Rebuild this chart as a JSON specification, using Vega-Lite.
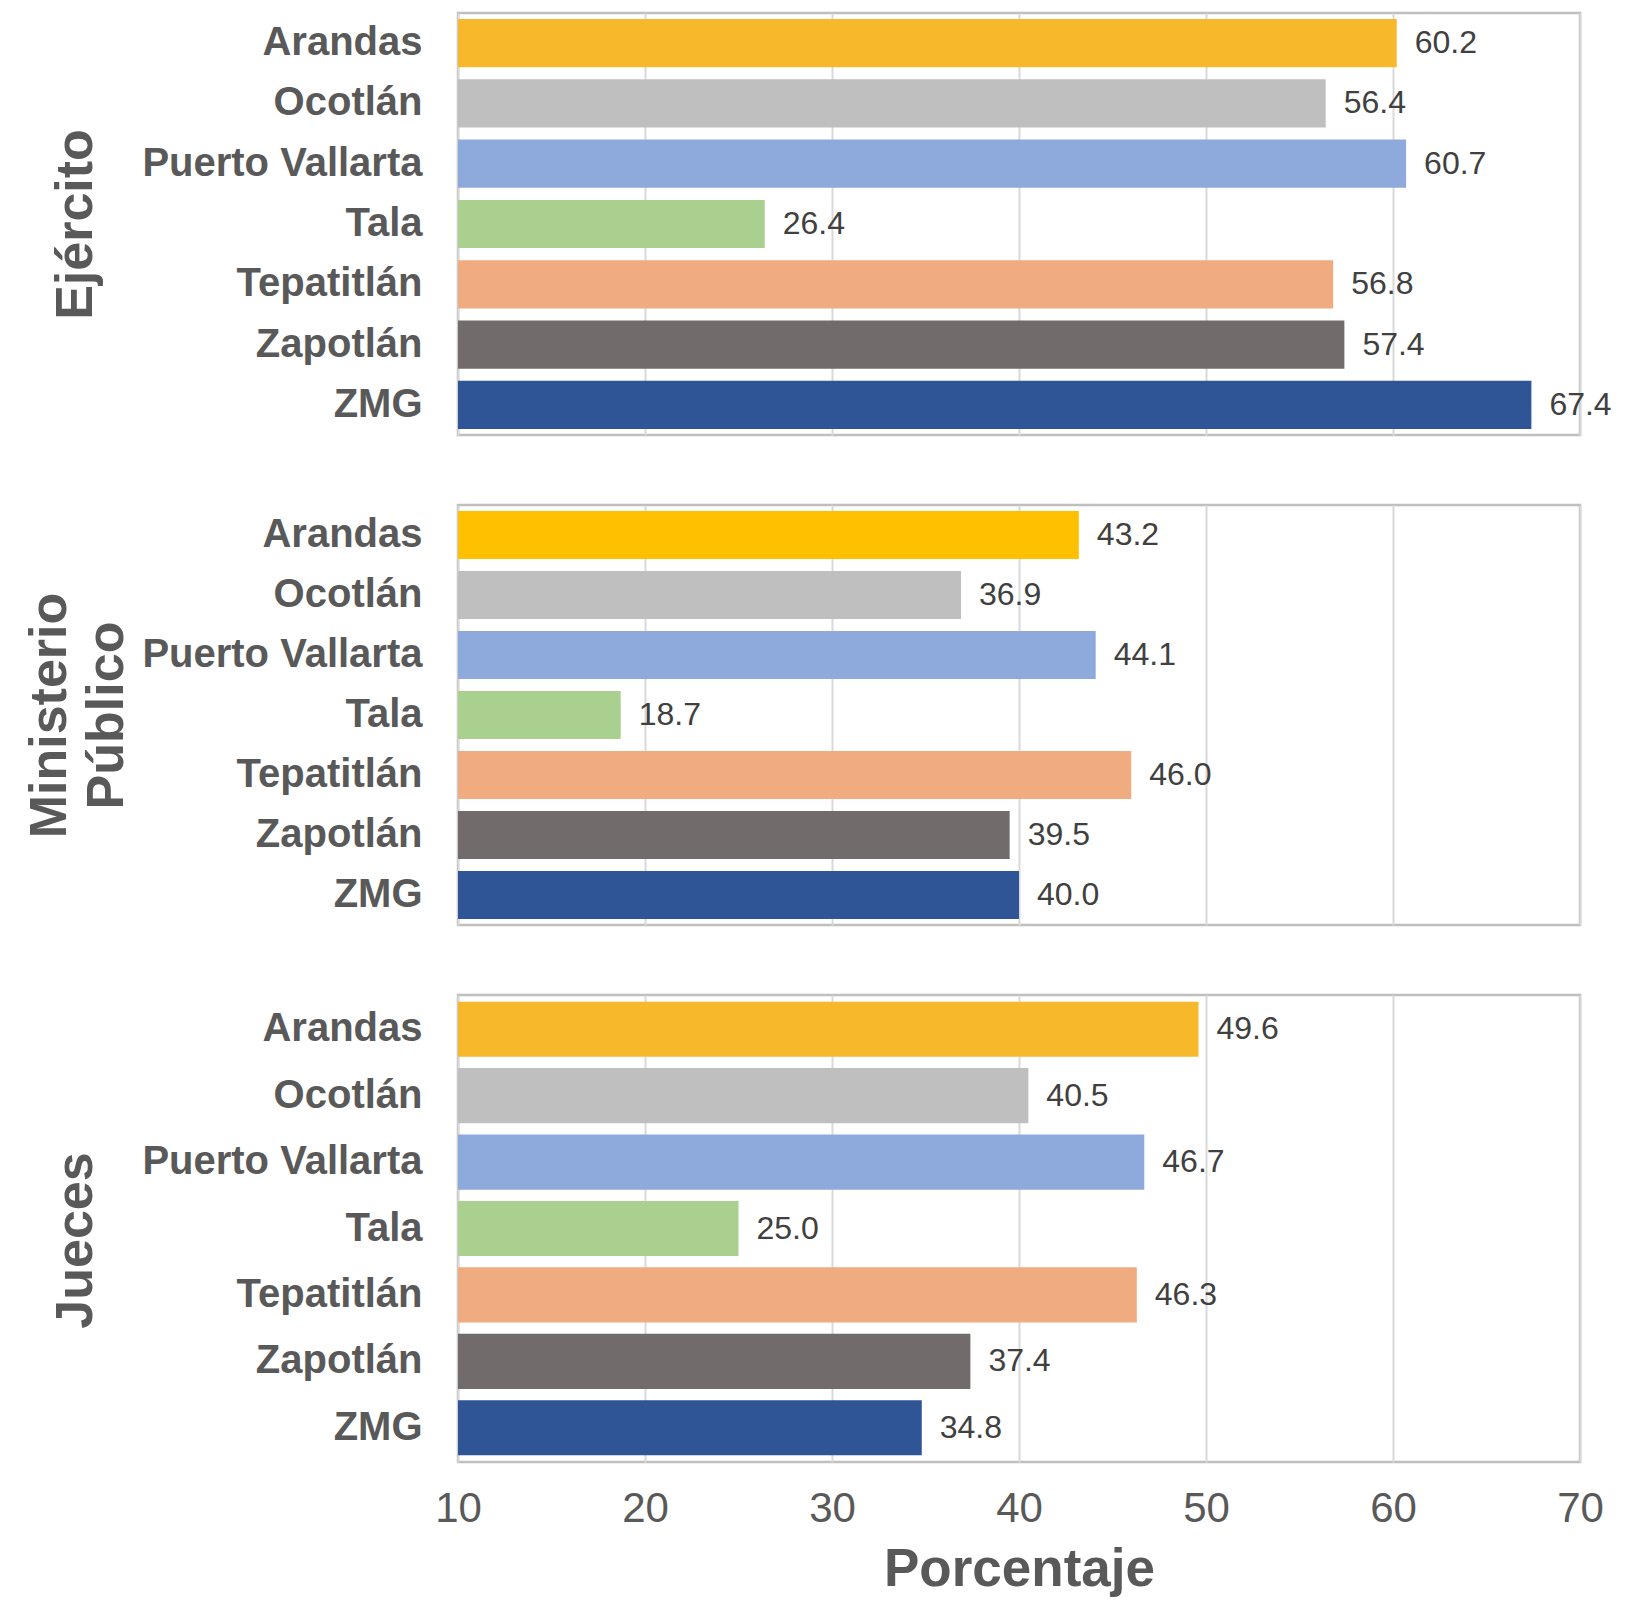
{
  "$schema": "https://vega.github.io/schema/vega-lite/v6.json",
  "background": "white",
  "padding": {"top": 11, "left": 21, "right": 5, "bottom": 5},
  "datasets": {
    "d": [
      {"panel": "Ejército", "ciudad": "Arandas", "valor": 60.2},
      {"panel": "Ejército", "ciudad": "Ocotlán", "valor": 56.4},
      {"panel": "Ejército", "ciudad": "Puerto Vallarta", "valor": 60.7},
      {"panel": "Ejército", "ciudad": "Tala", "valor": 26.4},
      {"panel": "Ejército", "ciudad": "Tepatitlán", "valor": 56.8},
      {"panel": "Ejército", "ciudad": "Zapotlán", "valor": 57.4},
      {"panel": "Ejército", "ciudad": "ZMG", "valor": 67.4},
      {"panel": "Ministerio Público", "ciudad": "Arandas", "valor": 43.2},
      {"panel": "Ministerio Público", "ciudad": "Ocotlán", "valor": 36.9},
      {"panel": "Ministerio Público", "ciudad": "Puerto Vallarta", "valor": 44.1},
      {"panel": "Ministerio Público", "ciudad": "Tala", "valor": 18.7},
      {"panel": "Ministerio Público", "ciudad": "Tepatitlán", "valor": 46.0},
      {"panel": "Ministerio Público", "ciudad": "Zapotlán", "valor": 39.5},
      {"panel": "Ministerio Público", "ciudad": "ZMG", "valor": 40.0},
      {"panel": "Jueces", "ciudad": "Arandas", "valor": 49.6},
      {"panel": "Jueces", "ciudad": "Ocotlán", "valor": 40.5},
      {"panel": "Jueces", "ciudad": "Puerto Vallarta", "valor": 46.7},
      {"panel": "Jueces", "ciudad": "Tala", "valor": 25.0},
      {"panel": "Jueces", "ciudad": "Tepatitlán", "valor": 46.3},
      {"panel": "Jueces", "ciudad": "Zapotlán", "valor": 37.4},
      {"panel": "Jueces", "ciudad": "ZMG", "valor": 34.8}
    ]
  },
  "spacing": 66,
  "resolve": {"scale": {"color": "independent"}},
  "vconcat": [
    {
      "width": 1122,
      "height": 422,
      "data": {"name": "d"},
      "transform": [{"filter": "datum.panel === 'Ejército'"}],
      "encoding": {
        "y": {"field": "ciudad", "type": "nominal", "sort": ["Arandas", "Ocotlán", "Puerto Vallarta", "Tala", "Tepatitlán", "Zapotlán", "ZMG"],
          "scale": {"paddingInner": 0.2, "paddingOuter": 0.1},
          "axis": {"title": "Ejército", "titleX": -383, "titleY": 211}},
        "x": {"field": "valor", "type": "quantitative", "scale": {"domain": [10, 70], "nice": false, "zero": false},
          "axis": {"labels": false, "title": null, "values": [10, 20, 30, 40, 50, 60, 70]}}
      },
      "layer": [
        {"mark": {"type": "bar"}, "encoding": {"x2": {"datum": 10},
          "color": {"field": "ciudad", "type": "nominal", "legend": null,
            "scale": {"domain": ["Arandas", "Ocotlán", "Puerto Vallarta", "Tala", "Tepatitlán", "Zapotlán", "ZMG"],
              "range": ["#F7B92B", "#BFBFBF", "#8EA9DB", "#A9D08E", "#F0AC80", "#716B6B", "#2F5597"]}}}},
        {"mark": {"type": "text", "align": "left", "baseline": "middle", "dx": 18, "fontSize": 32, "color": "#404040", "font": "Liberation Sans"},
          "encoding": {"text": {"field": "valor", "type": "quantitative", "format": ".1f"}}}
      ]
    },
    {
      "width": 1122,
      "height": 420,
      "data": {"name": "d"},
      "transform": [{"filter": "datum.panel === 'Ministerio Público'"}],
      "encoding": {
        "y": {"field": "ciudad", "type": "nominal", "sort": ["Arandas", "Ocotlán", "Puerto Vallarta", "Tala", "Tepatitlán", "Zapotlán", "ZMG"],
          "scale": {"paddingInner": 0.2, "paddingOuter": 0.1},
          "axis": {"title": ["Ministerio", "Público"], "titleX": -409, "titleY": 210}},
        "x": {"field": "valor", "type": "quantitative", "scale": {"domain": [10, 70], "nice": false, "zero": false},
          "axis": {"labels": false, "title": null, "values": [10, 20, 30, 40, 50, 60, 70]}}
      },
      "layer": [
        {"mark": {"type": "bar"}, "encoding": {"x2": {"datum": 10},
          "color": {"field": "ciudad", "type": "nominal", "legend": null,
            "scale": {"domain": ["Arandas", "Ocotlán", "Puerto Vallarta", "Tala", "Tepatitlán", "Zapotlán", "ZMG"],
              "range": ["#FFC000", "#BFBFBF", "#8EA9DB", "#A9D08E", "#F0AC80", "#716B6B", "#2F5597"]}}}},
        {"mark": {"type": "text", "align": "left", "baseline": "middle", "dx": 18, "fontSize": 32, "color": "#404040", "font": "Liberation Sans"},
          "encoding": {"text": {"field": "valor", "type": "quantitative", "format": ".1f"}}}
      ]
    },
    {
      "width": 1122,
      "height": 467,
      "data": {"name": "d"},
      "transform": [{"filter": "datum.panel === 'Jueces'"}],
      "encoding": {
        "y": {"field": "ciudad", "type": "nominal", "sort": ["Arandas", "Ocotlán", "Puerto Vallarta", "Tala", "Tepatitlán", "Zapotlán", "ZMG"],
          "scale": {"paddingInner": 0.17, "paddingOuter": 0.1},
          "axis": {"title": "Jueces", "titleX": -383, "titleY": 245}},
        "x": {"field": "valor", "type": "quantitative", "scale": {"domain": [10, 70], "nice": false, "zero": false},
          "axis": {"title": "Porcentaje", "values": [10, 20, 30, 40, 50, 60, 70], "labelFontSize": 42, "labelColor": "#595959", "labelPadding": 26, "labelFlush": false,
            "titleFontSize": 53, "titleFontWeight": "bold", "titleColor": "#595959", "titlePadding": 14}}
      },
      "layer": [
        {"mark": {"type": "bar"}, "encoding": {"x2": {"datum": 10},
          "color": {"field": "ciudad", "type": "nominal", "legend": null,
            "scale": {"domain": ["Arandas", "Ocotlán", "Puerto Vallarta", "Tala", "Tepatitlán", "Zapotlán", "ZMG"],
              "range": ["#F7B92B", "#BFBFBF", "#8EA9DB", "#A9D08E", "#F0AC80", "#716B6B", "#2F5597"]}}}},
        {"mark": {"type": "text", "align": "left", "baseline": "middle", "dx": 18, "fontSize": 32, "color": "#404040", "font": "Liberation Sans"},
          "encoding": {"text": {"field": "valor", "type": "quantitative", "format": ".1f"}}}
      ]
    }
  ],
  "config": {
    "font": "Liberation Sans",
    "view": {"stroke": "#BFBFBF", "strokeWidth": 2.5},
    "axisX": {"grid": true, "gridColor": "#D9D9D9", "gridWidth": 2, "ticks": false, "domain": false},
    "axisY": {"grid": false, "ticks": false, "domain": false, "labelFontSize": 40, "labelFontWeight": "bold", "labelColor": "#595959", "labelPadding": 36, "labelLimit": 0,
      "titleAngle": -90, "titleAlign": "center", "titleBaseline": "middle", "titleFontSize": 52, "titleFontWeight": "bold", "titleColor": "#595959", "titleLineHeight": 57}
  }
}
